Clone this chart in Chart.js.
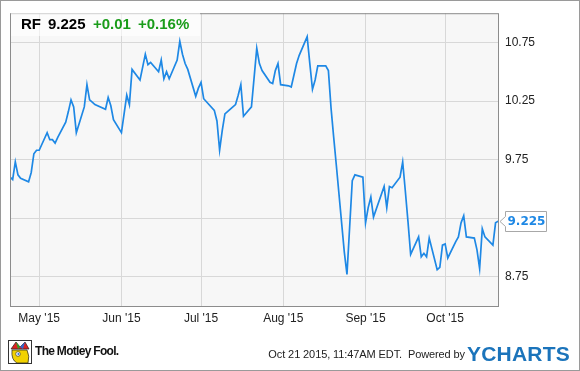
<!DOCTYPE html>
<html>
<head>
<meta charset="utf-8">
<script src="https://cdn.jsdelivr.net/npm/chart.js@4/dist/chart.umd.min.js"></script>
<style>
  html, body { margin:0; padding:0; background:#fff; }
  #wrap { position:relative; width:580px; height:371px; overflow:hidden; font-family:"Liberation Sans", Arial, sans-serif; }
  #chart { position:absolute; left:0; top:0; }
  #frame { position:absolute; left:0; top:0; width:580px; height:371px; box-sizing:border-box; border:1px solid #9a9a9a; pointer-events:none; }
  #head { position:absolute; left:11px; top:11px; width:189px; height:25px; background:rgba(255,255,255,0.6); }
  #head span { position:absolute; top:4px; font-weight:bold; font-size:15px; line-height:17px; white-space:nowrap; }
  .up { color:#1a9c1a; }
  #foot-date { position:absolute; right:115px; top:348px; font-size:11px; color:#222; white-space:nowrap; letter-spacing:-0.1px; }
  #ycharts { position:absolute; left:467px; top:342px; font-size:21px; font-weight:bold; color:#1b74bb; letter-spacing:0.2px; }
  #mf { position:absolute; left:35px; top:344px; font-size:12px; font-weight:bold; color:#111; letter-spacing:-0.7px; }
  #jester { position:absolute; left:8px; top:340px; width:24px; height:24px; }
</style>
</head>
<body>
<div id="wrap">
  <canvas id="chart" width="580" height="371"></canvas>
  <div id="head">
    <span style="left:10px">RF</span>
    <span style="left:37px" id="h-last"></span>
    <span style="left:82px" class="up">+0.01</span>
    <span style="left:127px" class="up">+0.16%</span>
  </div>
  <svg id="jester" viewBox="0 0 24 24">
    <rect x="0.5" y="0.5" width="23" height="23" fill="#fff" stroke="#333"/>
    <path d="M3 9 L8 2 L12 7 L17 2 L21 9 Z" fill="#d22" stroke="#222" stroke-width="0.7"/>
    <path d="M8 2 L12 7 L10 9 Z" fill="#2a2"/>
    <path d="M17 2 L12 7 L15 9 Z" fill="#36c"/>
    <path d="M4 10 Q3 20 9 23 L20 23 Q22 16 19 10 Z" fill="#f2d200" stroke="#222" stroke-width="0.7"/>
    <circle cx="10" cy="14" r="2.3" fill="#fff" stroke="#222" stroke-width="0.6"/>
    <circle cx="10.4" cy="14" r="1" fill="#2a6fd6"/>
  </svg>
  <div id="mf">The Motley Fool.</div>
  <div id="foot-date">Oct 21 2015, 11:47AM EDT.&nbsp; Powered by</div>
  <div id="ycharts">YCHARTS</div>
  <div id="frame"></div>
</div>
<script>
// RF daily closes, 2015 (MM-DD)
const dates = [
  "04-20","04-21","04-22","04-23","04-24","04-27","04-28","04-29","04-30",
  "05-01","05-04","05-05","05-06","05-07","05-08","05-11","05-12","05-13","05-14","05-15",
  "05-18","05-19","05-20","05-21","05-22","05-26","05-27","05-28","05-29",
  "06-01","06-02","06-03","06-04","06-05","06-08","06-09","06-10","06-11","06-12",
  "06-15","06-16","06-17","06-18","06-19","06-22","06-23","06-24","06-25","06-26","06-29","06-30",
  "07-01","07-02","07-06","07-07","07-08","07-09","07-10","07-13","07-14","07-15","07-16","07-17",
  "07-20","07-21","07-22","07-23","07-24","07-27","07-28","07-29","07-30","07-31",
  "08-03","08-04","08-05","08-06","08-07","08-10","08-11","08-12","08-13","08-14",
  "08-17","08-18","08-19","08-20","08-21","08-24","08-25","08-26","08-27","08-28","08-31",
  "09-01","09-02","09-03","09-04","09-08","09-09","09-10","09-11","09-14","09-15","09-16","09-17","09-18",
  "09-21","09-22","09-23","09-24","09-25","09-28","09-29","09-30",
  "10-01","10-02","10-05","10-06","10-07","10-08","10-09","10-12","10-13","10-14","10-15","10-16",
  "10-19","10-20","10-21"
];
const closes = [
  9.60,9.58,9.73,9.62,9.59,9.56,9.64,9.80,9.83,
  9.83,9.98,9.92,9.92,9.89,9.94,10.07,10.16,10.26,10.20,9.98,
  10.20,10.39,10.26,10.24,10.22,10.18,10.28,10.21,10.09,
  9.98,10.14,10.30,10.22,10.52,10.43,10.54,10.65,10.56,10.58,
  10.50,10.60,10.44,10.50,10.44,10.60,10.76,10.65,10.57,10.52,10.29,10.36,
  10.41,10.27,10.17,10.08,9.83,10.00,10.14,10.20,10.22,10.30,10.39,10.12,
  10.20,10.45,10.70,10.57,10.51,10.41,10.40,10.51,10.57,10.39,
  10.38,10.37,10.47,10.57,10.64,10.80,10.57,10.35,10.43,10.55,
  10.55,10.51,10.19,9.94,9.70,8.96,8.77,9.17,9.57,9.62,9.60,
  9.21,9.34,9.43,9.26,9.52,9.34,9.52,9.51,9.60,9.73,9.48,9.22,8.94,
  9.09,8.92,8.95,8.92,9.08,8.81,8.83,9.02,
  9.03,8.91,9.05,9.09,9.21,9.27,9.09,9.08,8.98,8.82,9.16,9.09,
  9.02,9.21,9.225
];
const monthStarts = ["05-01","06-01","07-01","08-01","09-01","10-01"];
const monthLabels = ["May '15","Jun '15","Jul '15","Aug '15","Sep '15","Oct '15"];
const yTicks = [8.75, 9.25, 9.75, 10.25, 10.75];
const xRange = ["04-20","10-21"];

// days since May 1 2015
function dayOf(s){
  const [m, d] = s.split("-").map(Number);
  return (Date.UTC(2015, m-1, d) - Date.UTC(2015, 4, 1)) / 86400000;
}

const last = closes[closes.length-1];
document.getElementById("h-last").textContent = last.toFixed(3);

const LINE = "#1e88e5";

const framePlugin = {
  id: "frame",
  beforeDraw(chart){
    const {ctx, chartArea:a} = chart;
    ctx.save();
    ctx.fillStyle = "#f7f7f7";
    ctx.fillRect(a.left, a.top, a.right-a.left, a.bottom-a.top);
    ctx.restore();
  },
  afterDraw(chart){
    const {ctx, chartArea:a} = chart;
    const ys = chart.scales.y;
    ctx.save();
    ctx.strokeStyle = "#8c8c8c";
    ctx.lineWidth = 1;
    ctx.strokeRect(a.left+0.5, a.top+0.5, a.right-a.left-1, a.bottom-a.top);
    // last value tag
    const y = Math.round(ys.getPixelForValue(last)) + 0.5;
    const bx = a.right + 6.5, bw = 41, bh = 20;
    ctx.fillStyle = "#fff";
    ctx.strokeStyle = "#a8a8a8";
    ctx.beginPath();
    ctx.moveTo(a.right + 1, y);
    ctx.lineTo(bx, y - 5);
    ctx.lineTo(bx, y - bh/2);
    ctx.lineTo(bx + bw, y - bh/2);
    ctx.lineTo(bx + bw, y + bh/2);
    ctx.lineTo(bx, y + bh/2);
    ctx.lineTo(bx, y + 5);
    ctx.closePath();
    ctx.fill();
    ctx.stroke();
    ctx.fillStyle = LINE;
    ctx.font = "bold 12px 'DejaVu Sans', Verdana, sans-serif";
    ctx.textBaseline = "middle";
    ctx.fillText(last.toFixed(3), bx + 2, y + 0.5);
    ctx.restore();
  }
};

Chart.defaults.font.family = "'Liberation Sans', Arial, sans-serif";
Chart.defaults.font.size = 12;

new Chart(document.getElementById("chart"), {
  type: "line",
  data: {
    datasets: [{
      data: dates.map((d, i) => ({x: dayOf(d), y: closes[i]})),
      borderColor: LINE,
      borderWidth: 1.7,
      pointRadius: 0,
      tension: 0,
      fill: false
    }]
  },
  options: {
    responsive: false,
    animation: false,
    layout: { padding: { left: 10, top: 10, right: 0, bottom: 0 } },
    plugins: { legend: { display: false }, tooltip: { enabled: false } },
    scales: {
      x: {
        type: "linear",
        min: dayOf(xRange[0]),
        max: dayOf(xRange[1]) + 0.3,
        afterBuildTicks: s => { s.ticks = monthStarts.map(m => ({value: dayOf(m)})); },
        afterFit: s => { s.height = 65; },
        ticks: {
          autoSkip: false, maxRotation: 0, padding: 5, color: "#222",
          callback: (v, i) => monthLabels[i]
        },
        grid: { color: "#d8d8d8", drawTicks: false },
        border: { display: false }
      },
      y: {
        position: "right",
        min: 8.5,
        max: 11.0,
        afterBuildTicks: s => { s.ticks = yTicks.map(v => ({value: v})); },
        afterFit: s => { s.width = 81; },
        ticks: {
          padding: 6, color: "#222",
          callback: v => Math.abs(v - last) < 0.15 ? "" : v.toFixed(2)
        },
        grid: { color: "#d8d8d8", drawTicks: false },
        border: { display: false }
      }
    }
  },
  plugins: [framePlugin]
});
</script>
</body>
</html>
